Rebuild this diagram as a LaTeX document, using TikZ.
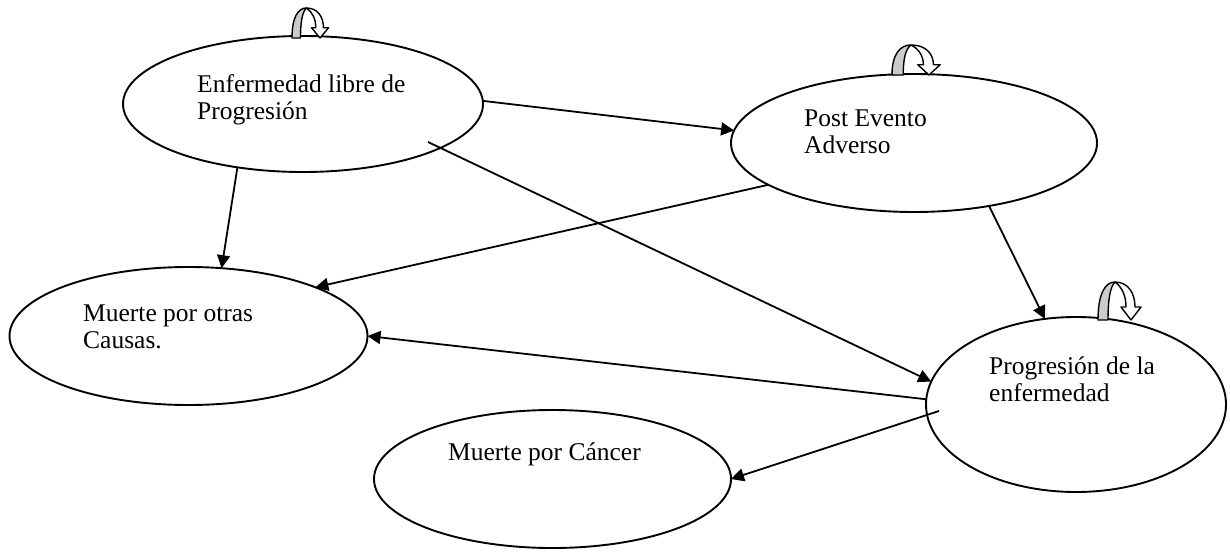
\documentclass[tikz,border=0pt]{standalone}
\usepackage{fontspec}
\setmainfont{Liberation Serif}
\usetikzlibrary{shapes.geometric,arrows.meta,calc}
\newcommand\curvedloop[4]{%
  \begin{scope}[shift={(#1,#2)},xscale=#3,yscale=#4]
    \path[loopgray] (0,0) .. controls (0,-26) and (7,-38) .. (17,-38)
      .. controls (12,-33) and (10,-20) .. (10,0) -- cycle;
    \path[loopwhite] (17,-38) .. controls (30,-38) and (37,-27) .. (37,-13)
      -- (43,-13) -- (33,0) -- (23,-13) -- (28,-13)
      .. controls (28,-24) and (24,-33) .. (17,-38) -- cycle;
  \end{scope}}
\begin{document}
\begin{tikzpicture}[x=1pt,y=-1pt,
  state/.style={ellipse,draw,line width=1.9pt,inner sep=0pt,outer sep=0pt},
  lbl/.style={anchor=base west,align=left,inner sep=0pt,font=\fontsize{25.5}{26.5}\selectfont},
  conn/.style={line width=1.8pt,-{Triangle[length=13pt,width=13pt]}},
  loopgray/.style={fill=gray!40,draw,line width=1.4pt,line join=round},
  loopwhite/.style={fill=white,draw,line width=1.4pt,line join=round}]
\useasboundingbox (0,0) rectangle (1230,551);

% states
\node[state,minimum width=360pt,minimum height=136pt] (enf) at (303,104) {};
\node[state,minimum width=366pt,minimum height=138pt] (post) at (914,143) {};
\node[state,minimum width=358pt,minimum height=138pt] (otras) at (188.5,336) {};
\node[state,minimum width=300pt,minimum height=175pt] (prog) at (1076,404.5) {};
\node[state,minimum width=357pt,minimum height=138pt] (cancer) at (552.5,479) {};

% labels (anchor = baseline of last line)
\node[lbl] (enft) at (197,119) {Enfermedad libre de\\Progresión};
\node[lbl] (postt) at (804,153) {Post Evento\\Adverso};
\node[lbl] (otrast) at (83,348) {Muerte por otras\\Causas.};
\node[lbl] (progt) at (989,401) {Progresión de la\\enfermedad};
\node[lbl] (cancert) at (448,460) {Muerte por Cáncer};

% self loops
\curvedloop{292}{38}{0.85}{0.79}
\curvedloop{892}{75}{1.12}{0.79}
\curvedloop{1098}{320}{1}{1}

% connectors
\draw[conn] (enf.1.3) -- (post.176.9);
\draw[conn] (enf.224.5) -- (otras.64.6);
\draw[conn] ($(enf)+(125,38)$) -- (prog.171.6);
\draw[conn] (post.196.5) -- (otras.21.6);
\draw[conn] (post.320.3) -- (prog.110.6);
\draw[conn] (prog.178.3) -- (otras.-0.6);
\draw[conn] ($(prog)+(-137,6.5)$) -- (cancer.0);
\end{tikzpicture}
\end{document}
